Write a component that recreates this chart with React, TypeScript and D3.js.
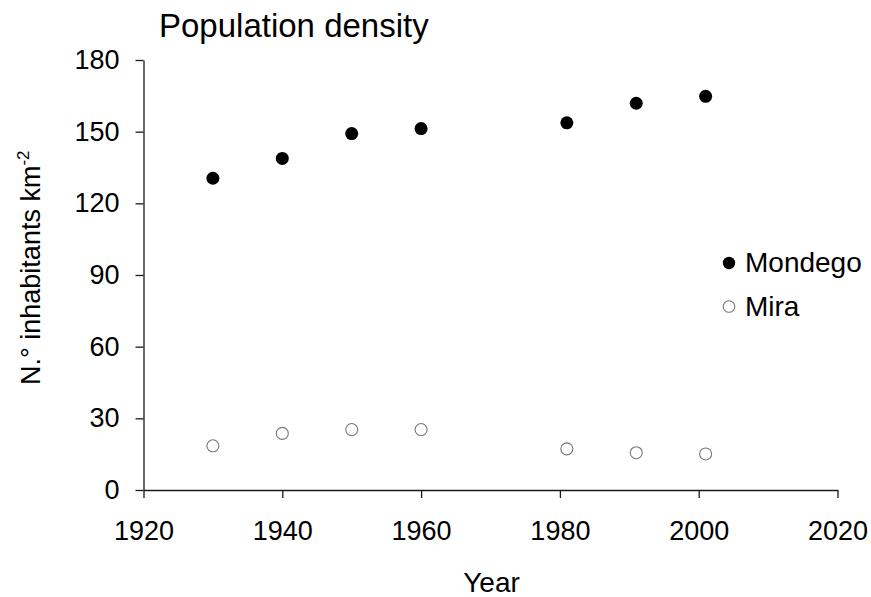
import React, { useEffect, useRef } from 'react';
import * as d3 from 'd3';

// values
const years = [1930, 1940, 1950, 1960, 1981, 1991, 2001];
const mondego = [130.5, 138.8, 149.2, 151.3, 153.7, 161.9, 164.8];
const mira = [18.5, 23.7, 25.3, 25.3, 17.2, 15.6, 15.1];
const xTicks = [1920, 1940, 1960, 1980, 2000, 2020];
const yTicks = [0, 30, 60, 90, 120, 150, 180];
const seriesNames = ['Mondego', 'Mira'];

const FONT = "'Liberation Sans', Arial, Helvetica, sans-serif";

export default function App() {
  const ref = useRef<SVGSVGElement>(null);

  useEffect(() => {
    const svg = d3.select(ref.current);
    svg.selectAll('*').remove();

    // plot area
    const left = 143.5, right = 837.5, top = 60, bottom = 490;

    const x = d3.scaleLinear().domain([1920, 2020]).range([left, right]);
    const y = d3.scaleLinear().domain([0, 180]).range([bottom, top]);

    // x axis
    const xg = svg.append('g')
      .attr('transform', `translate(0, ${bottom})`)
      .call(d3.axisBottom(x).tickValues(xTicks).tickFormat(d3.format('d'))
        .tickSize(8).tickSizeOuter(0).tickPadding(23));
    // y axis
    const yg = svg.append('g')
      .attr('transform', `translate(${left}, 0)`)
      .call(d3.axisLeft(y).tickValues(yTicks).tickSize(8).tickSizeOuter(0).tickPadding(16));

    [xg, yg].forEach(g => {
      g.attr('font-family', FONT).attr('font-size', 27);
      g.selectAll('path, line').attr('stroke', '#1a1a1a').attr('stroke-width', 1.3);
      g.selectAll('text').attr('fill', '#000');
    });

    // points
    const pts = svg.append('g');
    pts.selectAll('circle.mondego')
      .data(years)
      .join('circle')
      .attr('class', 'mondego')
      .attr('cx', d => x(d))
      .attr('cy', (d, i) => y(mondego[i]))
      .attr('r', 6.5)
      .attr('fill', '#000');

    pts.selectAll('circle.mira')
      .data(years)
      .join('circle')
      .attr('class', 'mira')
      .attr('cx', d => x(d))
      .attr('cy', (d, i) => y(mira[i]))
      .attr('r', 6)
      .attr('fill', '#fff')
      .attr('stroke', '#777')
      .attr('stroke-width', 1.1);

    // legend
    const legend = svg.append('g').attr('font-family', FONT).attr('font-size', 28);
    seriesNames.forEach((name, i) => {
      const ly = 263 + i * 43.5;
      legend.append('circle')
        .attr('cx', 729).attr('cy', ly)
        .attr('r', i === 0 ? 6.2 : 5.8)
        .attr('fill', i === 0 ? '#000' : '#fff')
        .attr('stroke', i === 0 ? 'none' : '#777')
        .attr('stroke-width', 1.1);
      legend.append('text')
        .attr('x', 745).attr('y', ly + 9)
        .attr('fill', '#000')
        .text(name);
    });

    // title
    svg.append('text')
      .attr('x', 159).attr('y', 37)
      .attr('font-family', FONT).attr('font-size', 33)
      .attr('fill', '#000')
      .text('Population density');

    // x axis title
    svg.append('text')
      .attr('x', x(1970) + 1).attr('y', 592)
      .attr('text-anchor', 'middle')
      .attr('font-family', FONT).attr('font-size', 28)
      .attr('fill', '#000')
      .text('Year');

    // y axis title with superscript
    const yl = svg.append('text')
      .attr('transform', 'translate(40, 385) rotate(-90)')
      .attr('font-family', FONT).attr('font-size', 27)
      .attr('fill', '#000');
    yl.append('tspan').text('N.° inhabitants km');
    yl.append('tspan').attr('font-size', 17).attr('dy', -11).text('-2');
  }, []);

  return (
    <svg ref={ref} width={871} height={597}
      style={{ position: 'absolute', left: 0, top: 0, background: '#fff' }} />
  );
}
